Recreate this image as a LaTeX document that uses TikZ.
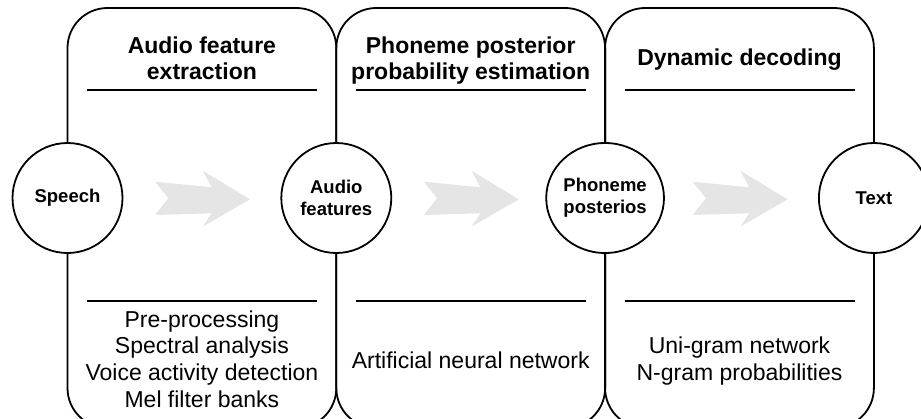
\documentclass[tikz,border=0pt]{standalone}
\usepackage{fontspec}
\setmainfont{Liberation Sans}
\usetikzlibrary{shapes.geometric}

\begin{document}
\begin{tikzpicture}[x=1pt,y=-1pt,
  stage/.style={draw, line width=1.8pt, rounded corners=40pt,
    minimum width=268.8pt, minimum height=420pt, inner sep=0pt},
  state/.style={circle, draw, fill=white, line width=1.8pt,
    minimum size=110pt, inner sep=0pt, align=center,
    font=\fontsize{18.5}{22}\selectfont\bfseries},
  rule/.style={line width=1.6pt},
  title/.style={anchor=base, inner sep=0pt,
    font=\fontsize{23}{27}\selectfont\bfseries},
  body/.style={anchor=base, inner sep=0pt,
    font=\fontsize{23}{27}\selectfont},
  flow/.style={fill=black!10, draw=none}
]
\useasboundingbox (0,0) rectangle (921,418);

% three processing stages
\node[stage] (s1) at (201.9,218) {};
\node[stage] (s2) at (470.7,218) {};
\node[stage] (s3) at (739.5,218) {};

% header and footer rules of each stage
\foreach \i/\cx in {1/201.9, 2/470.7, 3/739.5} {
  \coordinate (h\i l) at (\cx-115,90);
  \coordinate (h\i r) at (\cx+115,90);
  \coordinate (f\i l) at (\cx-115,301);
  \coordinate (f\i r) at (\cx+115,301);
  \draw[rule] (h\i l) -- (h\i r);
  \draw[rule] (f\i l) -- (f\i r);
}

% data between the stages
\node[state] (speech) at (67.5,198) {Speech};
\node[state] (audio) at (336.3,198) {Audio\\features};
\node[state, ellipse, minimum width=105pt, minimum height=110pt] (phon) at (605.1,198) {Phoneme\\posterios};
\node[state] (text) at (873.9,198) {Text};

% flow arrows
\foreach \dx in {0, 268.8, 537.6} {
  \begin{scope}[xshift=\dx]
    \fill[flow] (155,181.7) -- (211.7,187.3) -- (202.7,170.7) -- (250,199.3)
      -- (202.7,226.7) -- (211.7,213.3) -- (155,215) -- (168.3,198.3) -- cycle;
  \end{scope}
}

% stage titles
\node[title] (t1a) at (201.9,53) {Audio feature};
\node[title] (t1b) at (201.9,79) {extraction};
\node[title] (t2a) at (470.7,53) {Phoneme posterior};
\node[title] (t2b) at (470.7,79) {probability estimation};
\node[title] (t3a) at (739.5,65) {Dynamic decoding};

% stage contents
\node[body] (b1a) at (201.9,327) {Pre-processing};
\node[body] (b1b) at (201.9,353.5) {Spectral analysis};
\node[body] (b1c) at (201.9,380.5) {Voice activity detection};
\node[body] (b1d) at (201.9,407) {Mel filter banks};
\node[body] (b2a) at (470.7,368) {Artificial neural network};
\node[body] (b3a) at (739.5,353.5) {Uni-gram network};
\node[body] (b3b) at (739.5,380.5) {N-gram probabilities};
\end{tikzpicture}
\end{document}
